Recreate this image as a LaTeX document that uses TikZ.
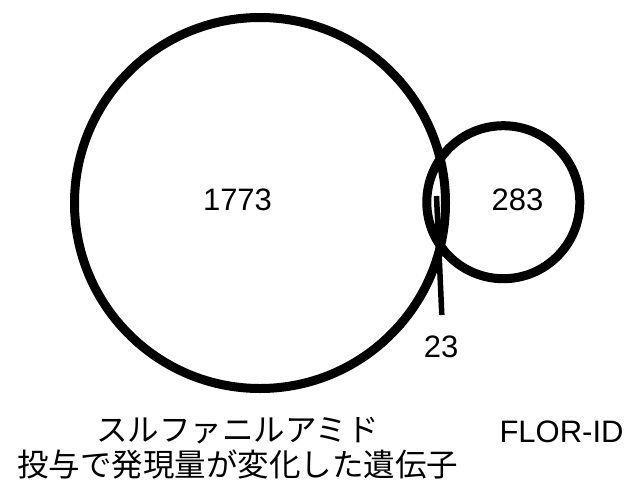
\documentclass[tikz,border=0pt]{standalone}
\usepackage{fontspec}
\setmainfont{Liberation Sans}
\newfontfamily\jpfont{Noto Sans CJK JP}
\begin{document}
\begin{tikzpicture}[x=1pt,y=-1pt,
  vennset/.style={draw=black,line width=9pt},
  leader/.style={draw=black,line width=5.5pt},
  numlabel/.style={inner sep=0pt,anchor=base,font=\fontsize{31}{31}\selectfont},
  jplabel/.style={inner sep=0pt,anchor=base,font=\fontsize{31.5}{31.5}\selectfont\jpfont}]
\useasboundingbox (0,0) rectangle (628,479);
\coordinate (bigc) at (260,203);
\coordinate (smallc) at (503.3,202.2);
\draw[vennset] (bigc) circle[radius=185.5pt];
\draw[vennset] (smallc) circle[radius=76.5pt];
\coordinate (leadtop) at (436.5,196);
\coordinate (leadbot) at (441.8,315);
\draw[leader] (leadtop) -- (leadbot);
\node[numlabel] (n1773) at (237.5,210) {1773};
\node[numlabel] (n283) at (517.5,210) {283};
\node[numlabel] (n23) at (441,357) {23};
\node[numlabel] (flor) at (561.5,442) {FLOR-ID};
\node[jplabel] (jp1) at (237.5,441) {スルファニルアミド};
\node[jplabel] (jp2) at (237.5,476) {投与で発現量が変化した遺伝子};
\end{tikzpicture}
\end{document}
